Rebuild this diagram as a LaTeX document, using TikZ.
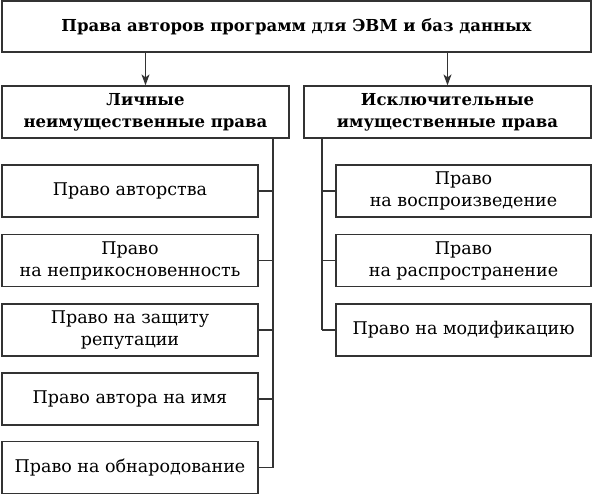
\documentclass[tikz,border=0pt]{standalone}
\usepackage{fontspec}
\setmainfont{DejaVu Serif}
\usetikzlibrary{arrows.meta}
\begin{document}
\begin{tikzpicture}[x=1pt,y=-1pt,
  box/.style={draw=black!80,line width=1.2pt,rectangle,inner sep=0pt,align=center,
    font=\fontsize{17.5}{22}\selectfont},
  hbox/.style={box,font=\fontsize{16.5}{22}\selectfont\bfseries},
  conn/.style={draw=black!80,line width=1.2pt},
  arr/.style={conn,-{Stealth[length=11pt,width=8pt,inset=3pt]}}]
\useasboundingbox (0,0) rectangle (593,495);
\node[hbox,minimum width=589pt,minimum height=51pt] (top) at (296.5,26.5) {Права авторов программ для ЭВМ и баз данных};
\node[hbox,minimum width=287pt,minimum height=52pt] (lh) at (145.5,112) {Личные\\неимущественные права};
\node[hbox,minimum width=287pt,minimum height=52pt] (rh) at (447.5,112) {Исключительные\\имущественные права};
\draw[arr] (top.south -| lh.north) -- (lh.north);
\draw[arr] (top.south -| rh.north) -- (rh.north);
\begin{scope}[every node/.style={box,minimum width=256pt,minimum height=52pt}]
\node (l1) at (130,191) {Право авторства};
\node (l2) at (130,260.5) {Право\\на неприкосновенность};
\node (l3) at (130,330) {Право на защиту\\репутации};
\node (l4) at (130,399) {Право автора на имя};
\node (l5) at (130,467.5) {Право на обнародование};
\end{scope}
\begin{scope}[every node/.style={box,minimum width=255pt,minimum height=52pt}]
\node (r1) at (463.5,191) {Право\\на воспроизведение};
\node (r2) at (463.5,260.5) {Право\\на распространение};
\node (r3) at (463.5,330) {Право на модификацию};
\end{scope}
\coordinate (lt) at (273,138);
\coordinate (rt) at (322,138);
\draw[conn] (lt) -- (l5.east -| lt);
\foreach \n in {l1,l2,l3,l4,l5} \draw[conn] (\n.east) -- (\n.east -| lt);
\draw[conn] (rt) -- (r3.west -| rt);
\foreach \n in {r1,r2,r3} \draw[conn] (\n.west) -- (\n.west -| rt);
\end{tikzpicture}
\end{document}
